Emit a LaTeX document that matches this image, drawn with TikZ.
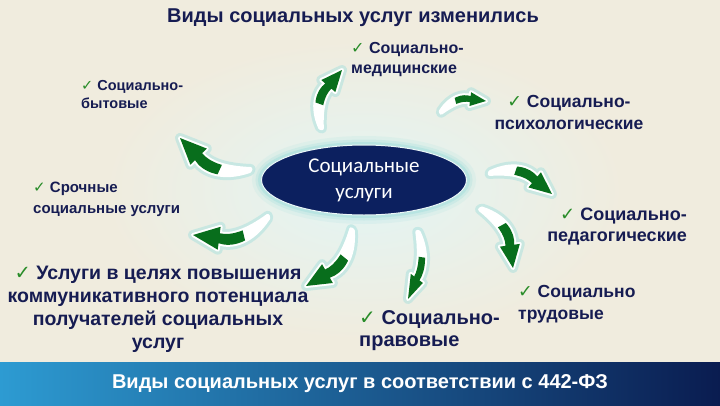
\documentclass[tikz,border=0pt]{standalone}
\usepackage{fontspec}
\setmainfont{Liberation Sans}
\newfontfamily\dejavu{DejaVu Sans}
\newfontfamily\carl{Carlito}
\usetikzlibrary{shapes.geometric}
\definecolor{bgc}{RGB}{240,236,222}
\definecolor{navy}{RGB}{22,28,82}
\definecolor{ellfill}{RGB}{12,32,95}
\definecolor{chk}{RGB}{40,140,40}
\definecolor{agreen}{RGB}{8,110,28}
\definecolor{glowc}{RGB}{160,222,220}
\definecolor{barL}{RGB}{45,155,210}
\definecolor{barM}{RGB}{25,90,160}
\definecolor{barR}{RGB}{10,28,80}
\newcommand\chk{{\dejavu\color{chk}✓}}
\newcommand\apath{(0,0.015) .. controls (0.28,0.28) and (0.55,0.28) .. (0.703,0.181) -- (0.733,0.260) -- (1,0) -- (0.627,-0.020) -- (0.657,0.059) .. controls (0.52,0.13) and (0.3,0.11) .. (0,-0.015) -- cycle}
\newcommand\carrow[5]{%
  \pgfmathsetmacro\cax{#3-#1}\pgfmathsetmacro\cay{-(#4-#2)}%
  \pgfmathsetmacro\caang{atan2(\cay,\cax)}\pgfmathsetmacro\calen{veclen(\cax,\cay)}%
  \pgfmathsetmacro\cab{\calen*#5}%
  \begin{scope}[shift={(#1,#2)}, rotate=\caang, x={(\calen pt,0pt)}, y={(0pt,\cab pt)}]
    \draw[glowc, line width=10pt, line join=round, opacity=0.45] \apath;
    \filldraw[white, line width=4pt, line join=round] \apath;
    \begin{scope}
      \clip (0.36,-1) rectangle (2,1);
      \fill[agreen] \apath;
    \end{scope}
  \end{scope}}
\tikzset{lbl/.style 2 args={font=\bfseries\fontsize{#1}{#2}\selectfont, text=navy, inner sep=0pt}}
\begin{document}
\begin{tikzpicture}[x=1pt,y=-1pt]
\useasboundingbox (0,0) rectangle (720,405);
\fill[bgc] (0,0) rectangle (720,405);
\shade[inner color=white!70!glowc, outer color=bgc] (364,190) ellipse [x radius=260, y radius=150];
% title
\node[font=\bfseries\fontsize{20}{24}\selectfont, text=navy, inner sep=0pt] (title) at (353,18) {Виды социальных услуг изменились};
% centre ellipse glow
\foreach \w/\o in {18/0.15, 11/0.25, 6/0.45}
  \draw[glowc, line width=\w pt, opacity=\o] (364,180) ellipse [x radius=103, y radius=35];
\node[ellipse, draw=white!80!glowc, line width=1pt, fill=ellfill, minimum width=205pt, minimum height=70pt, text=white, align=center, inner sep=0pt, font=\carl\fontsize{21}{26}\selectfont] (hub) at (364,180) {Социальные\\услуги};
% arrows
\carrow{250}{170}{180}{138}{1}
\carrow{321}{128}{342}{70}{1}
\carrow{441}{112}{486}{101}{1}
\carrow{490}{173}{552}{194}{1}
\carrow{481}{209}{513}{268}{1}
\carrow{418}{232}{408}{299}{0.7}
\carrow{352}{230}{306}{286}{1}
\carrow{268}{217}{193}{235}{1}
% labels
\node[lbl={14.5}{18}, align=left, anchor=north west] (l1) at (81,80) {\chk\ Социально-\\бытовые};
\node[lbl={16}{20}, align=left, anchor=north west] (l2) at (351,42) {\chk\ Социально-\\медицинские};
\node[lbl={17.5}{22}, align=center, anchor=north] (l3) at (569,95) {\chk\ Социально-\\психологические};
\node[lbl={15}{21}, align=left, anchor=north west] (l4) at (33,182) {\chk\ Срочные\\социальные услуги};
\node[lbl={18}{21}, align=right, anchor=north east] (l5) at (687,208) {\chk\ Социально-\\педагогические};
\node[lbl={19.5}{23}, align=center, anchor=north] (l6) at (158,266) {\chk\ Услуги в целях повышения\\коммуникативного потенциала\\получателей социальных\\услуг};
\node[lbl={20}{22}, align=left, anchor=north west] (l7) at (359,310) {\chk\ Социально-\\правовые};
\node[lbl={17.5}{22}, align=left, anchor=north west] (l8) at (518,285) {\chk\ Социально\\трудовые};
% bottom bar
\shade[left color=barL, middle color=barM, right color=barR] (0,362) rectangle (720,405);
\node[font=\bfseries\fontsize{20}{23}\selectfont, text=white, inner sep=0pt] (bartext) at (360,384) {Виды социальных услуг в соответствии с 442-ФЗ};
\end{tikzpicture}
\end{document}
